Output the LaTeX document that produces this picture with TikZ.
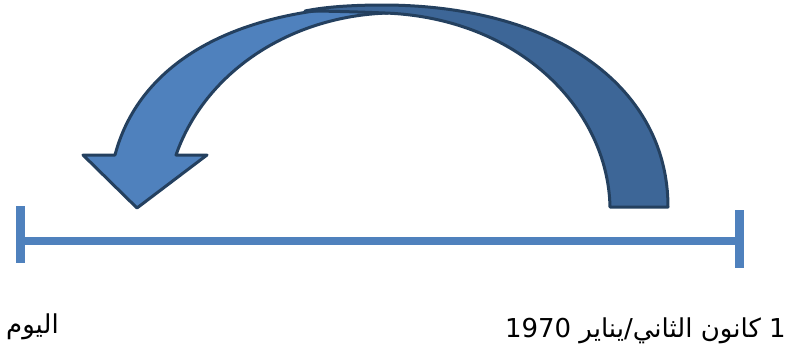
\documentclass[tikz,border=0pt]{standalone}
\usepackage{fontspec}
\newfontfamily\arabicfont[Script=Arabic]{DejaVu Sans}
\TeXXeTstate=1
\usepackage{xcolor}
\definecolor{axis}{HTML}{4F81BD}
\definecolor{front}{HTML}{4F81BD}
\definecolor{back}{HTML}{3D6697}
\definecolor{edge}{HTML}{24405F}
\tikzset{
  tl/.style={draw=axis, line width=7.5pt},
  tk/.style={draw=axis, line width=9pt},
  sh/.style={draw=edge, line width=3pt, line join=round},
  lbl/.style={font=\arabicfont\fontsize{26}{30}\selectfont, inner sep=0pt},
}
\begin{document}
\begin{tikzpicture}[x=1pt, y=-1pt]
\useasboundingbox (0,0) rectangle (796,348);
\coordinate (now) at (20,241);
\coordinate (epoch) at (739,241);
\draw[tl] (now) -- (epoch);
\draw[tk] (20,206) -- (20,263);
\draw[tk] (739,210) -- (739,268);

\filldraw[sh, fill=front] (115,155) .. controls (140,60) and (240,6) .. (388,6) -- (388,13)
  .. controls (290,16) and (205,72) .. (176,155) -- (207,155) -- (137,208) -- (83,155) -- cycle;
\filldraw[sh, fill=back] (668,207) .. controls (668,90) and (560,6) .. (385,5)
  .. controls (350,5) and (325,7) .. (305,11) .. controls (330,11) and (360,12) .. (385,13)
  .. controls (520,18) and (608,110) .. (610,207) -- cycle;

\node[lbl, anchor=base east] (epochlbl) at (786,337) {\beginR 1 كانون الثاني/يناير \beginL 1970\endL\endR};
\node[lbl, anchor=base west] (nowlbl) at (6,333) {\beginR اليوم\endR};
\end{tikzpicture}
\end{document}
